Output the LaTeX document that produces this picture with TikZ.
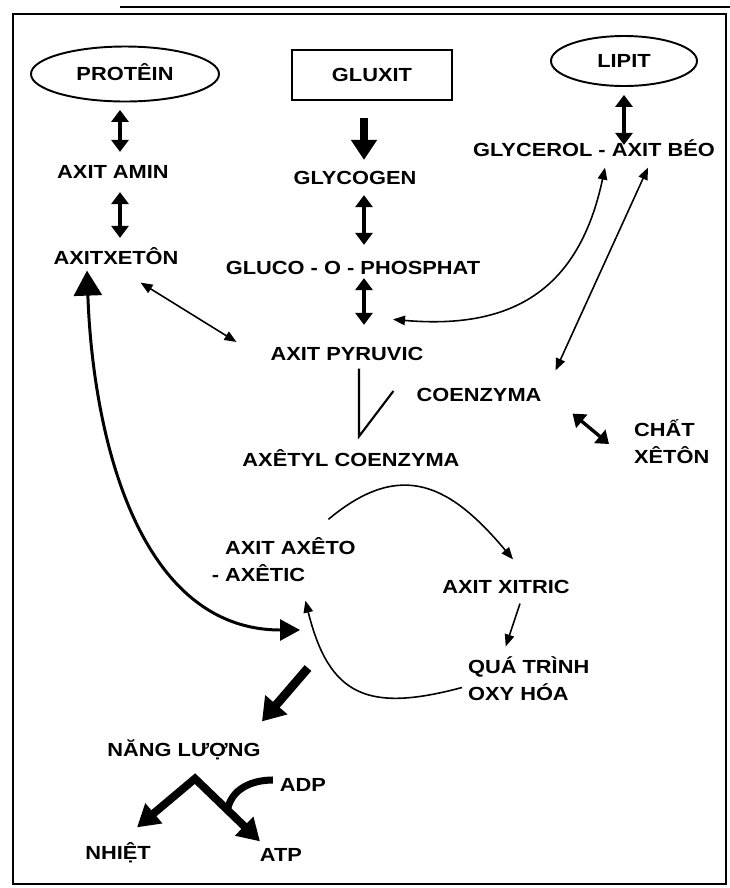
\documentclass[tikz,border=0pt]{standalone}
\usepackage{fontspec}
\setmainfont{Liberation Sans}[FakeStretch=1.15]
\usepackage{tikz}
\usetikzlibrary{arrows.meta,calc,shapes.geometric}
\tikzset{
  lbl/.style={font=\bfseries\fontsize{10.8}{15.3}\selectfont, inner sep=1pt, text height=7.4pt, text depth=0pt},
  lbltwo/.style={font=\bfseries\fontsize{10.8}{15.3}\selectfont, inner sep=1pt, align=left, anchor=west},
  oval/.style={lbl, draw, ellipse, line width=1.1pt},
  src/.style={lbl, draw, line width=1.3pt, minimum width=32mm, minimum height=10mm},
  thinarr/.style={-{Triangle[length=2.4mm, width=1.9mm]}, line width=0.9pt},
  thinboth/.style={{Triangle[length=2.4mm, width=1.9mm]}-{Triangle[length=2.4mm, width=1.9mm]}, line width=0.9pt},
  medboth/.style={{Triangle[length=2.4mm, width=3.4mm]}-{Triangle[length=2.4mm, width=3.4mm]}, line width=1.9pt},
  bigboth/.style={{Triangle[length=5mm, width=5.6mm]}-{Triangle[length=4mm, width=4.2mm]}, line width=1.7pt},
  fatarr/.style={-{Triangle[length=4mm, width=5mm]}, line width=4.5pt},
  fatboth/.style={{Triangle[length=4.4mm, width=5mm]}-{Triangle[length=4.4mm, width=5mm]}, line width=4.5pt},
  fatline/.style={line width=4pt},
  vline/.style={line width=1.2pt}}

\begin{document}
\begin{tikzpicture}[x=0.2mm, y=0.2mm]
  \useasboundingbox (0,0) rectangle (730,-888);
  \draw[line width=1.6pt] (120,-7) -- (730,-7);
  \draw[line width=1.3pt] (13,-14) rectangle (726,-884);

  \node[oval, minimum width=37.6mm, minimum height=11mm] (prot) at (125,-74) {PROTÊIN};
  \node[src] (gluxit) at (372,-75) {GLUXIT};
  \node[oval, minimum width=29.2mm, minimum height=10mm] (lipit) at (624,-61) {LIPIT};
  \node[lbl] (amin) at (113,-172) {AXIT AMIN};
  \node[lbl] (xeton) at (116,-258) {AXITXETÔN};
  \node[lbl] (glycogen) at (355,-178) {GLYCOGEN};
  \node[lbl] (gluco) at (353,-268) {GLUCO - O - PHOSPHAT};
  \node[lbl] (glyc) at (594,-150) {GLYCEROL - AXIT BÉO};
  \node[lbl] (pyr) at (347,-354) {AXIT PYRUVIC};
  \node[lbl] (coenz) at (479,-395) {COENZYMA};
  \node[lbltwo] (chat) at (632,-442) {CHẤT\\XÊTÔN};
  \node[lbl] (axetyl) at (351,-460) {AXÊTYL COENZYMA};
  \node[lbltwo] (axeto) at (223,-559.5) {AXIT AXÊTO\\\llap{- }AXÊTIC};
  \node[lbl] (xitric) at (506,-587) {AXIT XITRIC};
  \node[lbltwo] (qua) at (466,-678.5) {QUÁ TRÌNH\\OXY HÓA};
  \node[lbl] (nang) at (184,-750) {NĂNG LƯỢNG};
  \node[lbl] (adp) at (303,-785) {ADP};
  \node[lbl] (nhiet) at (118,-853) {NHIỆT};
  \node[lbl] (atp) at (281,-855) {ATP};

  \coordinate (lcol) at (120,0);
  \coordinate (mcol) at (364,0);
  \coordinate (cyc) at (300,-630);
  \coordinate (apex) at ($(nang.south)+(11,-20)$);
  \coordinate (atptip) at ($(atp.north)+(-21,5)$);

  \draw[medboth, shorten <=1.5mm, shorten >=2.3mm] (prot.south -| lcol) -- (amin.north -| lcol);
  \draw[medboth, shorten <=2.3mm, shorten >=2.3mm] (amin.south -| lcol) -- (xeton.north -| lcol);
  \draw[fatarr, shorten <=3.4mm, shorten >=1.9mm] (gluxit.south -| mcol) -- (glycogen.north -| mcol);
  \draw[medboth, shorten <=1.7mm, shorten >=2.9mm] (glycogen.south -| mcol) -- (gluco.north -| mcol);
  \draw[medboth, shorten <=0.3mm, shorten >=4.1mm] (gluco.south -| mcol) -- (pyr.north -| mcol);
  \draw[medboth, shorten <=1.6mm, shorten >=-0.7mm] (lipit.south) -- (glyc.north -| lipit.south);

  \draw[thinboth] ($(xeton.south east)+(-40,-16)$) -- ($(pyr.west)+(-32,12)$);
  \draw[thinboth] ($(glyc.south)+(11,-9)$) to[out=-102, in=-5, looseness=1.2] ($(pyr.north)+(46,26)$);
  \draw[thinboth] ($(glyc.south)+(54,-9)$) -- ($(coenz.north east)+(12,16)$);
  \draw[vline] ($(pyr.south)+(12,-6)$) -- ($(axetyl.north)+(8,15)$) -- ($(coenz.west)+(-21,4)$);
  \draw[medboth] ($(coenz.south east)+(29,-10)$) -- ($(chat.west)+(-23,-2)$);

  \draw[thinarr] ($(axeto.north)+(38,16)$) to[out=40, in=130, looseness=1.3] ($(xitric.north)+(7,19)$);
  \draw[thinarr] ($(xitric.south)+(14,-8)$) -- ($(qua.north)+(-23,8)$);
  \draw[thinarr] ($(qua.west)+(-4,-9)$) to[out=195, in=-76, looseness=1.4] ($(axeto.south)+(15,-17)$);
  \draw[bigboth] ($(xeton.south)+(-29,-4)$) to[out=-88, in=180] (cyc);

  \draw[fatarr, line width=5pt, -{Triangle[length=4.4mm, width=5.6mm]}] ($(cyc)+(8,-38)$) -- ($(nang.north)+(78,20)$);
  \draw[fatboth] ($(nhiet.north)+(19,17)$) -- (apex) -- (atptip);
  \draw[fatline] ($(adp.west)+(-5,5)$) to[out=180, in=80] ($(apex)!0.5!(atptip)$);
\end{tikzpicture}
\end{document}
